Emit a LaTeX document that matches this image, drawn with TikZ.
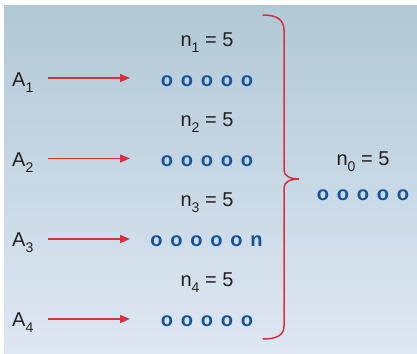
\documentclass[tikz,border=0pt]{standalone}
\usepackage{fontspec}
\setmainfont{Liberation Sans}
\usetikzlibrary{arrows.meta}
\definecolor{bgtop}{RGB}{177,200,213}
\definecolor{bgbot}{RGB}{222,231,243}
\definecolor{redc}{RGB}{214,50,62}
\definecolor{bluec}{RGB}{22,84,155}
\definecolor{txt}{RGB}{35,31,32}
\newcommand{\lowsub}[1]{\raisebox{-6.5bp}{\fontsize{14bp}{14bp}\selectfont #1}}
\newcommand{\og}{\hspace{7.8bp}}
\tikzset{
  lbl/.style={inner sep=0pt, anchor=base, text=txt, font=\fontsize{20bp}{24bp}\selectfont},
  alabel/.style={inner sep=0pt, anchor=base west, text=txt, font=\fontsize{20bp}{24bp}\selectfont},
  balls/.style={inner sep=0pt, anchor=base, text=bluec, font=\fontsize{20bp}{24bp}\selectfont\bfseries},
  feed/.style={draw=redc, line width=1.3bp, -{Triangle[length=10bp,width=8bp]}},
  brace/.style={draw=redc, line width=1.5bp, line cap=round}
}
\begin{document}
\begin{tikzpicture}[x=1bp,y=-1bp]
\useasboundingbox (0,0) rectangle (417,354);
\shade[top color=bgtop, bottom color=bgbot] (4,5) rectangle (417,353);
% labels n_i
\node[lbl] (n1) at (207,46) {n\lowsub{1} = 5};
\node[lbl] (n2) at (207,126) {n\lowsub{2} = 5};
\node[lbl] (n3) at (207,206) {n\lowsub{3} = 5};
\node[lbl] (n4) at (207,286) {n\lowsub{4} = 5};
% balls
\node[balls] (b1) at (207,86) {o\og o\og o\og o\og o};
\node[balls] (b2) at (207,166) {o\og o\og o\og o\og o};
\node[balls] (b3) at (206.5,246) {o\og o\og o\og o\og o\og n};
\node[balls] (b4) at (207,326) {o\og o\og o\og o\og o};
% A labels
\node[alabel] (A1) at (12,86) {A\lowsub{1}};
\node[alabel] (A2) at (12,166) {A\lowsub{2}};
\node[alabel] (A3) at (12,246) {A\lowsub{3}};
\node[alabel] (A4) at (12,326) {A\lowsub{4}};
% arrows
\coordinate (s1) at (48,78);   \coordinate (e1) at (130,78);
\coordinate (s2) at (48,158.5);\coordinate (e2) at (130,158.5);
\coordinate (s3) at (48,239);  \coordinate (e3) at (130,239);
\coordinate (s4) at (48,319);  \coordinate (e4) at (130,319);
\draw[feed] (s1) -- (e1);
\draw[feed] (s2) -- (e2);
\draw[feed] (s3) -- (e3);
\draw[feed] (s4) -- (e4);
% brace
\coordinate (btop) at (263,15);
\coordinate (btip) at (299,179);
\coordinate (bbot) at (263,339);
\draw[brace] (btop) .. controls (277,15) and (284,20) .. (284,30)
  -- (284,170) .. controls (284,176) and (290,179) .. (btip)
  .. controls (290,179) and (284,182) .. (284,188)
  -- (284,326) .. controls (284,335) and (277,339) .. (bbot);
% n0
\node[lbl] (n0) at (363,165) {n\lowsub{0} = 5};
\node[balls] (b0) at (363,200) {o\og o\og o\og o\og o};
\end{tikzpicture}
\end{document}
